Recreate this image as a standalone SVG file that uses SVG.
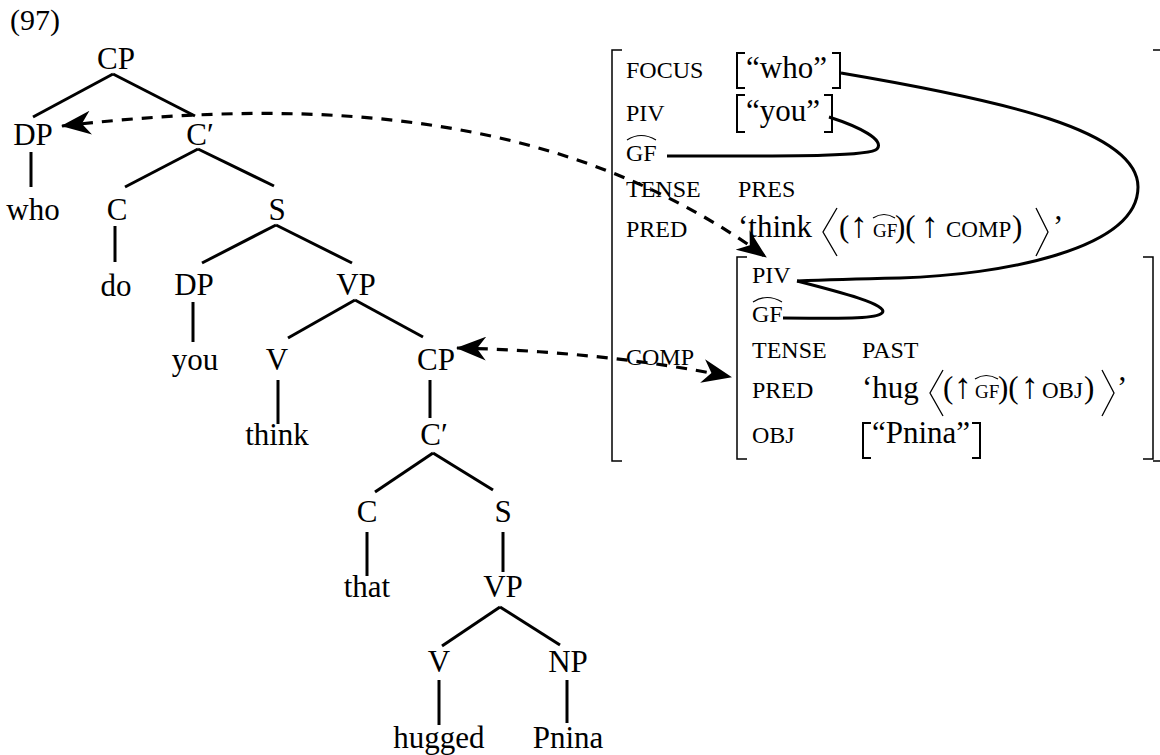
<svg xmlns="http://www.w3.org/2000/svg" width="1160" height="755" viewBox="0 0 1160 755" font-family="'Liberation Serif', 'Times New Roman', 'DejaVu Serif', serif">
<style>
text{font-family:'Liberation Serif','Times New Roman','DejaVu Serif',serif;fill:#000}
.t{font-size:31px;text-anchor:middle}
.a{font-size:24px}
.v{font-size:31px}
.s{font-size:19px}
.m{font-size:23px}
.up{font-size:36px}
.e{stroke:#000;stroke-width:3;fill:none;stroke-linecap:butt}
.br{stroke:#000;stroke-width:1.5;fill:none}
.vb{stroke:#000;stroke-width:2;fill:none}
.hat{stroke:#000;stroke-width:1.2;fill:none}
.ang{stroke:#000;stroke-width:1.3;fill:none}
.dash{stroke:#000;stroke-width:3.2;fill:none;stroke-dasharray:11 9}
.curve{stroke:#000;stroke-width:3;fill:none}
</style>
<defs>
<marker id="arr" viewBox="0 0 30 24" refX="29" refY="12" markerWidth="30" markerHeight="24" markerUnits="userSpaceOnUse" orient="auto-start-reverse">
<path d="M0,0 L30,12 L0,24 L9,12 z" fill="#000" stroke="none"/>
</marker>
</defs>
<rect width="1160" height="755" fill="#fff"/>
<text x="10" y="30" style="font-size:30px">(97)</text>

<g id="tree-edges">
<line class="e" x1="113" y1="74" x2="33" y2="117"/>
<line class="e" x1="113" y1="74" x2="195" y2="116"/>
<line class="e" x1="31" y1="152" x2="31" y2="187"/>
<line class="e" x1="198" y1="149" x2="125" y2="187"/>
<line class="e" x1="198" y1="149" x2="274" y2="186"/>
<line class="e" x1="115" y1="226" x2="115" y2="262"/>
<line class="e" x1="276" y1="225" x2="202" y2="263"/>
<line class="e" x1="276" y1="225" x2="352" y2="263"/>
<line class="e" x1="193" y1="302" x2="193" y2="342"/>
<line class="e" x1="355" y1="300" x2="288" y2="338"/>
<line class="e" x1="355" y1="300" x2="423" y2="337"/>
<line class="e" x1="278" y1="380" x2="278" y2="424"/>
<line class="e" x1="430" y1="380" x2="430" y2="418"/>
<line class="e" x1="433" y1="453" x2="375" y2="492"/>
<line class="e" x1="433" y1="453" x2="493" y2="490"/>
<line class="e" x1="367" y1="532" x2="367" y2="576"/>
<line class="e" x1="503" y1="532" x2="503" y2="572"/>
<line class="e" x1="500" y1="607" x2="442" y2="646"/>
<line class="e" x1="500" y1="607" x2="560" y2="645"/>
<line class="e" x1="439" y1="680" x2="439" y2="725"/>
<line class="e" x1="567" y1="680" x2="567" y2="723"/>
</g>

<g id="n-cp1"><text class="t" x="116" y="69">CP</text></g>
<g id="n-dp1"><text class="t" x="33" y="145">DP</text></g>
<g id="n-cbar1"><text class="t" x="200" y="145">C′</text></g>
<g id="n-who"><text class="t" x="33" y="220">who</text></g>
<g id="n-c1"><text class="t" x="117" y="220">C</text></g>
<g id="n-s1"><text class="t" x="277" y="220">S</text></g>
<g id="n-do"><text class="t" x="116" y="296">do</text></g>
<g id="n-dp2"><text class="t" x="194" y="295">DP</text></g>
<g id="n-vp1"><text class="t" x="356" y="295">VP</text></g>
<g id="n-you"><text class="t" x="195" y="370">you</text></g>
<g id="n-v1"><text class="t" x="277" y="370">V</text></g>
<g id="n-cp2"><text class="t" x="436" y="370">CP</text></g>
<g id="n-think"><text class="t" x="277" y="445">think</text></g>
<g id="n-cbar2"><text class="t" x="434" y="445">C′</text></g>
<g id="n-c2"><text class="t" x="367" y="522">C</text></g>
<g id="n-s2"><text class="t" x="503" y="522">S</text></g>
<g id="n-that"><text class="t" x="367" y="597">that</text></g>
<g id="n-vp2"><text class="t" x="503" y="597">VP</text></g>
<g id="n-v2"><text class="t" x="439" y="672">V</text></g>
<g id="n-np"><text class="t" x="568" y="672">NP</text></g>
<g id="n-hugged"><text class="t" x="439" y="748">hugged</text></g>
<g id="n-pnina"><text class="t" x="568" y="748">Pnina</text></g>

<g id="fs-outer">
<path class="br" d="M622,50 H612 V461 H622"/>
<path class="br" d="M1153,50 H1161 V461 H1153"/>
<text class="a" x="626" y="78">FOCUS</text>
<text class="a" x="626" y="121">PIV</text>
<text class="a" x="626" y="161">GF</text>
<path class="hat" d="M627,140 Q641,131 656,140"/>
<text class="a" x="626" y="197">TENSE</text>
<text class="a" x="626" y="237">PRED</text>
<text class="a" x="626" y="365">COMP</text>
<path class="vb" d="M745,53 H737 V88 H745"/>
<path class="vb" d="M832,53 H840 V88 H832"/>
<text class="v" x="746" y="78">“who”</text>
<path class="vb" d="M745,95 H737 V132 H745"/>
<path class="vb" d="M824,95 H832 V132 H824"/>
<text class="v" x="746" y="121">“you”</text>
<text class="a" x="738" y="197">PRES</text>
<text class="v" y="237"><tspan x="738">‘think</tspan><tspan x="839">(</tspan><tspan x="850" class="up">↑</tspan><tspan x="873" class="s">GF</tspan><tspan x="895">)(</tspan><tspan x="921" class="up">↑</tspan><tspan x="946" class="m">COMP</tspan><tspan x="1012">)</tspan><tspan x="1053">’</tspan></text>
<path class="hat" d="M873,218 Q884,211 895,218"/>
<polyline class="ang" points="837,208 823,232 837,256"/>
<polyline class="ang" points="1036,208 1048,232 1036,256"/>
</g>

<g id="fs-inner">
<path class="br" d="M747,257 H737 V459 H747"/>
<path class="br" d="M1143,257 H1153 V459 H1143"/>
<text class="a" x="752" y="283">PIV</text>
<text class="a" x="752" y="322">GF</text>
<path class="hat" d="M753,302 Q767,293 782,302"/>
<text class="a" x="752" y="358">TENSE</text>
<text class="a" x="752" y="398">PRED</text>
<text class="a" x="752" y="443">OBJ</text>
<text class="a" x="862" y="358">PAST</text>
<text class="v" y="398"><tspan x="862">‘hug</tspan><tspan x="943">(</tspan><tspan x="954" class="up">↑</tspan><tspan x="975" class="s">GF</tspan><tspan x="998">)(</tspan><tspan x="1021" class="up">↑</tspan><tspan x="1042" class="m">OBJ</tspan><tspan x="1084">)</tspan><tspan x="1117">’</tspan></text>
<path class="hat" d="M975,379 Q986,372 998,379"/>
<polyline class="ang" points="943,370 930,393 943,416"/>
<polyline class="ang" points="1102,370 1114,393 1102,416"/>
<path class="vb" d="M871,423 H863 V458 H871"/>
<path class="vb" d="M972,423 H980 V458 H972"/>
<text class="v" x="872" y="443">“Pnina”</text>
</g>

<g id="connectors">
<path class="dash" d="M62,126 C330,95 570,115 766,257" marker-start="url(#arr)" marker-end="url(#arr)"/>
<path class="dash" d="M457,348 C550,350 650,360 731,377" marker-start="url(#arr)" marker-end="url(#arr)"/>
<path class="curve" d="M841,73 C1000,100 1138,130 1138,187 C1138,250 1000,275 900,278 C850,279 820,280 797,281"/>
<path class="curve" d="M829,117 C860,127 885,140 877,149 C870,157 780,156 667,156"/>
<path class="curve" d="M797,281 C840,292 890,305 882,313 C875,320 830,318 783,318"/>
</g>
</svg>
